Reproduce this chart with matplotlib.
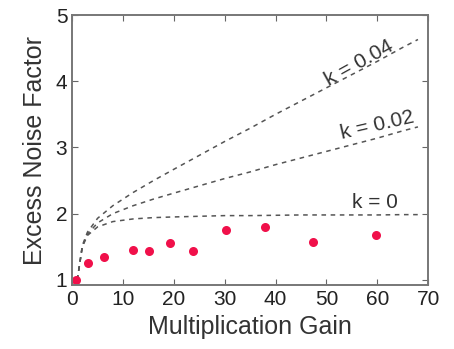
import matplotlib.pyplot as plt
import numpy as np

plt.rcParams["font.family"] = ["Liberation Sans", "DejaVu Sans"]

gain = [0.8, 3.2, 6.2, 12.0, 15.2, 19.3, 23.8, 30.3, 37.9, 47.4, 59.7]
noise = [1.00, 1.26, 1.35, 1.45, 1.43, 1.55, 1.44, 1.75, 1.80, 1.57, 1.68]

# dashed reference curves
curve_gain = [1, 2, 3, 5, 8, 12, 16, 20, 25, 30, 35, 40, 45, 50, 55, 60, 65, 68]
k0 = [1.00, 1.50, 1.67, 1.80, 1.88, 1.92, 1.94, 1.95, 1.96, 1.97, 1.97, 1.975,
      1.98, 1.98, 1.98, 1.98, 1.985, 1.985]
k002 = [1.00, 1.51, 1.69, 1.86, 2.00, 2.12, 2.22, 2.31, 2.42, 2.53, 2.63, 2.74,
        2.84, 2.94, 3.04, 3.14, 3.25, 3.31]
k004 = [1.00, 1.52, 1.72, 1.93, 2.12, 2.32, 2.50, 2.67, 2.88, 3.09, 3.29, 3.50,
        3.70, 3.90, 4.10, 4.30, 4.51, 4.63]

curve_labels = ["k = 0", "k = 0.02", "k = 0.04"]
label_pos = [(59.5, 2.17, 0), (60.0, 3.33, 13), (56.5, 4.27, 29)]

fig = plt.figure(figsize=(4.54, 3.49), dpi=100)
ax = fig.add_axes([0.159, 0.183, 0.784, 0.774])

for ys in (k0, k002, k004):
    ax.plot(curve_gain, ys, linestyle=(0, (3, 3)), color="#555555", linewidth=1.1)

ax.plot(gain, noise, "o", color="#f0104a", markersize=6.5, markeredgewidth=0)

for txt, (x, y, rot) in zip(curve_labels, label_pos):
    ax.text(x, y, txt, fontsize=15, color="#333333", rotation=rot,
            ha="center", va="center", rotation_mode="anchor")

ax.set_xlim(0, 70)
ax.set_ylim(0.92, 5.0)
ax.set_xticks(np.arange(0, 71, 10))
ax.set_yticks([1, 2, 3, 4, 5])
ax.tick_params(direction="in", top=True, right=True, length=4,
               labelsize=15, color="#666666", labelcolor="#222222")
for sp in ax.spines.values():
    sp.set_color("#777777")
    sp.set_linewidth(1.4)

ax.set_xlabel("Multiplication Gain", fontsize=18, color="#333333", labelpad=4)
ax.set_ylabel("Excess Noise Factor", fontsize=18, color="#333333", labelpad=6)

fig.savefig("out.png", dpi=100)
